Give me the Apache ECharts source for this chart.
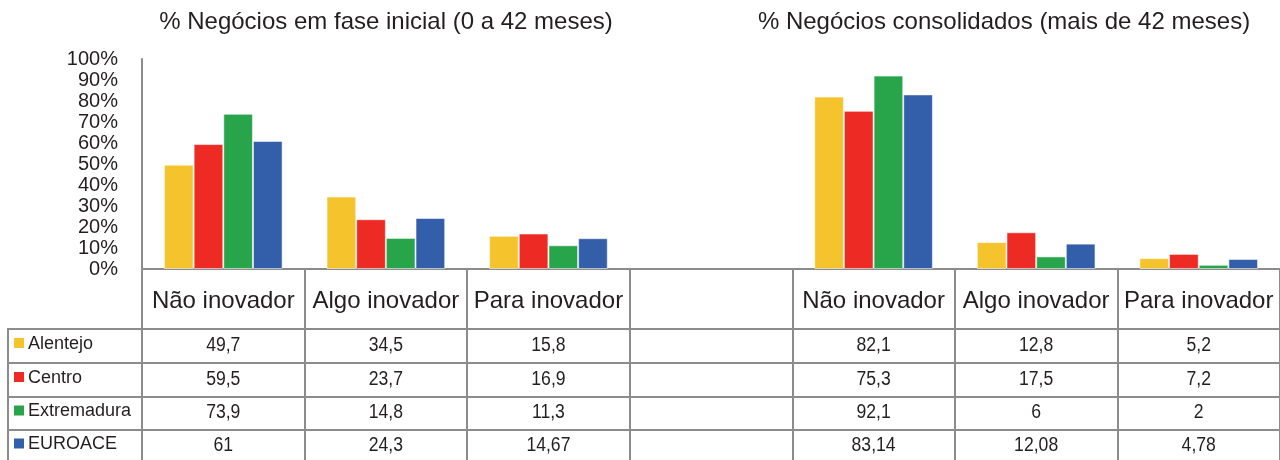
<!DOCTYPE html>
<html>
<head>
<meta charset="utf-8">
<script src="https://cdn.jsdelivr.net/npm/echarts@6/dist/echarts.min.js"></script>
<style>
  html, body { margin: 0; padding: 0; background: #ffffff; }
  #chart { width: 1280px; height: 460px; }
</style>
</head>
<body>
<div id="chart"></div>
<script>
// Categories of business innovation, repeated for both stage groups
const categories = ['Não inovador', 'Algo inovador', 'Para inovador'];
const groupTitles = ['% Negócios em fase inicial (0 a 42 meses)', '% Negócios consolidados (mais de 42 meses)'];
const regions = ['Alentejo', 'Centro', 'Extremadura', 'EUROACE'];
const regionColors = ['#F5C42C', '#EE2A24', '#28A54A', '#335FAA'];

// Early-stage businesses (0 to 42 months), %
const inicialAlentejo = [49.7, 34.5, 15.8];
const inicialCentro = [59.5, 23.7, 16.9];
const inicialExtremadura = [73.9, 14.8, 11.3];
const inicialEuroace = [61, 24.3, 14.67];

// Consolidated businesses (more than 42 months), %
const consolidadoAlentejo = [82.1, 12.8, 5.2];
const consolidadoCentro = [75.3, 17.5, 7.2];
const consolidadoExtremadura = [92.1, 6, 2];
const consolidadoEuroace = [83.14, 12.08, 4.78];

const inicial = [inicialAlentejo, inicialCentro, inicialExtremadura, inicialEuroace];
const consolidado = [consolidadoAlentejo, consolidadoCentro, consolidadoExtremadura, consolidadoEuroace];

// One empty slot separates the two groups on the category axis
const xCategories = [...categories, '', ...categories];
const rowValues = regions.map((_, i) => [...inicial[i], null, ...consolidado[i]]);

const FONT = "'Liberation Sans', Arial, sans-serif";
const TEXT = '#231f20';
const GRID_LINE = '#8c8c8c';

const chart = echarts.init(document.getElementById('chart'), null, { renderer: 'canvas' });

const option = {
  animation: false,
  backgroundColor: '#ffffff',
  grid: { left: 142, right: -2, top: 59, bottom: 191, containLabel: false },
  xAxis: {
    type: 'category',
    data: xCategories,
    boundaryGap: true,
    axisLine: { show: true, lineStyle: { color: GRID_LINE, width: 2 } },
    axisTick: { show: true, interval: 0, length: 191, lineStyle: { color: GRID_LINE, width: 2 } },
    axisLabel: {
      interval: 0, fontFamily: FONT, fontSize: 24, color: TEXT,
      verticalAlign: 'middle', margin: 32
    }
  },
  yAxis: {
    type: 'value',
    min: 0, max: 100, interval: 10,
    axisLine: { show: true, lineStyle: { color: GRID_LINE, width: 2 } },
    axisTick: { show: false },
    splitLine: { show: false },
    axisLabel: { formatter: '{value}%', fontFamily: FONT, fontSize: 20, color: TEXT, margin: 24 }
  },
  series: regions.map((name, i) => ({
    name,
    type: 'bar',
    data: rowValues[i],
    barGap: '0%',
    barCategoryGap: '27%',
    itemStyle: { color: regionColors[i], borderColor: 'rgba(255,255,255,0.55)', borderWidth: 1 }
  }))
};

chart.setOption(option);

// Data table under the axis, aligned to the category columns
function fmt(v) { return String(v).replace('.', ','); }

const axisY = chart.convertToPixel({ yAxisIndex: 0 }, 0);
const headerBottom = axisY + 60;
const rowHeights = [34, 34, 33, 33];
const tableLeft = 7;
const tableRight = 1280;

const graphics = [];

// Group titles
const titleCenters = [386, 1004];
groupTitles.forEach((t, i) => {
  graphics.push({
    type: 'text', x: titleCenters[i], y: 22, silent: true,
    style: { text: t, fontFamily: FONT, fontSize: 24, fill: TEXT, align: 'center', verticalAlign: 'middle' }
  });
});

// Horizontal row lines and the left edge
let yTop = headerBottom;
const rowCenters = [];
rowHeights.forEach(h => {
  graphics.push({
    type: 'line', silent: true,
    shape: { x1: tableLeft, y1: yTop, x2: tableRight, y2: yTop },
    style: { stroke: GRID_LINE, lineWidth: 2 }
  });
  rowCenters.push(yTop + h / 2 - 1);
  yTop += h;
});
graphics.push({
  type: 'line', silent: true,
  shape: { x1: tableLeft + 1, y1: headerBottom, x2: tableLeft + 1, y2: 460 },
  style: { stroke: GRID_LINE, lineWidth: 2 }
});

// Legend keys and values per row
regions.forEach((name, r) => {
  const cy = rowCenters[r];
  graphics.push({
    type: 'rect', silent: true,
    shape: { x: 14, y: cy - 7, width: 10, height: 10 },
    style: { fill: regionColors[r] }
  });
  graphics.push({
    type: 'text', x: 28, y: cy - 1, silent: true,
    style: { text: name, fontFamily: FONT, fontSize: 18, fill: TEXT, align: 'left', verticalAlign: 'middle' }
  });
  rowValues[r].forEach((v, c) => {
    if (v === null) return;
    const cx = chart.convertToPixel({ xAxisIndex: 0 }, c);
    graphics.push({
      type: 'text', x: cx, y: cy, scaleX: 0.88, silent: true,
      style: { text: fmt(v), fontFamily: FONT, fontSize: 20, fill: TEXT, align: 'center', verticalAlign: 'middle' }
    });
  });
});

chart.setOption({ graphic: graphics });
</script>
</body>
</html>
